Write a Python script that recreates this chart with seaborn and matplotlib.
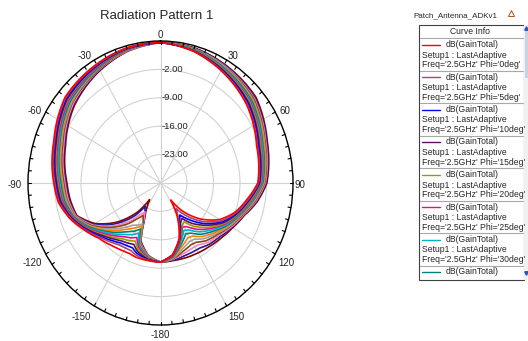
import numpy as np
import pandas as pd
import matplotlib
matplotlib.use('Agg')
import matplotlib.pyplot as plt
from matplotlib.patches import Rectangle
from matplotlib import font_manager as fm
import seaborn as sns

# theta sample angles (deg) shared by every curve
theta_deg = [-180, -170, -160, -155, -150, -145, -140, -130, -120, -110, -100, -90,
             -70, -50, -30, -15, 0, 15, 30, 50, 70, 90, 100, 110, 120, 130, 140,
             147, 152, 160, 170, 180]

phi_names = ['0deg', '5deg', '10deg', '15deg', '20deg', '25deg', '30deg',
             '35deg', '40deg', '45deg', '50deg', '55deg', '60deg', '65deg']

# dB(GainTotal)
gain_phi00 = [-10.5, -10.6, -10.6, -10.8, -10.6, -10.3, -9.9, -8.8, -6.8, -4.5, -2.6, -1.8, 0.0, 2.9, 3.8, 4.5,
              4.7, 3.6, 2.0, -0.2, -3.0, -4.3, -6.8, -9.0, -12.0, -16.2, -21.0, -25.0, -20.5, -15.5, -12.0, -10.5]
gain_phi05 = [-10.5, -10.7, -11.1, -11.6, -11.5, -11.3, -10.7, -9.2, -7.0, -4.7, -2.8, -2.1, -0.2, 2.7, 3.7, 4.4,
              4.7, 3.7, 2.1, 0.0, -2.8, -4.1, -6.5, -8.7, -11.4, -15.2, -19.5, -22.5, -20.0, -15.4, -11.9, -10.5]
gain_phi10 = [-10.5, -10.8, -11.6, -12.4, -12.2, -11.9, -11.2, -9.5, -7.2, -4.8, -3.0, -2.3, -0.4, 2.4, 3.5, 4.3,
              4.6, 3.7, 2.3, 0.3, -2.5, -3.9, -6.3, -8.5, -11.0, -14.4, -18.2, -20.6, -19.4, -15.3, -11.9, -10.5]
gain_phi15 = [-10.5, -10.9, -12.1, -13.3, -12.9, -12.5, -11.8, -9.9, -7.4, -5.0, -3.3, -2.6, -0.7, 2.2, 3.4, 4.3,
              4.6, 3.8, 2.4, 0.5, -2.3, -3.8, -6.1, -8.3, -10.6, -13.8, -17.0, -19.6, -18.8, -15.2, -11.8, -10.5]
gain_phi20 = [-10.5, -11.0, -12.6, -14.2, -13.6, -13.1, -12.3, -10.2, -7.6, -5.1, -3.5, -2.9, -0.9, 2.0, 3.3, 4.2,
              4.7, 3.9, 2.6, 0.8, -2.0, -3.6, -5.8, -8.1, -10.3, -13.1, -16.0, -18.6, -18.0, -15.0, -11.7, -10.5]
gain_phi25 = [-10.5, -11.1, -13.1, -15.2, -14.4, -13.8, -12.9, -10.6, -7.8, -5.3, -3.8, -3.1, -1.2, 1.7, 3.1, 4.1,
              4.6, 3.9, 2.7, 1.0, -1.8, -3.4, -5.6, -7.9, -10.0, -12.6, -15.1, -17.2, -17.7, -14.8, -11.6, -10.5]
gain_phi30 = [-10.5, -11.2, -13.4, -16.4, -15.3, -14.5, -13.5, -11.0, -8.0, -5.4, -4.0, -3.4, -1.5, 1.5, 3.0, 4.1,
              4.7, 4.0, 2.8, 1.2, -1.5, -3.2, -5.4, -7.7, -9.7, -12.1, -14.3, -16.2, -16.8, -14.5, -11.5, -10.5]
gain_phi35 = [-10.5, -11.3, -13.6, -17.5, -16.3, -15.4, -14.2, -11.4, -8.3, -5.6, -4.3, -3.7, -1.7, 1.2, 2.8, 4.0,
              4.6, 4.1, 3.0, 1.5, -1.3, -3.0, -5.2, -7.5, -9.4, -11.6, -13.5, -15.3, -15.8, -14.0, -11.4, -10.5]
gain_phi40 = [-10.5, -11.4, -13.8, -18.3, -17.3, -16.3, -15.0, -11.9, -8.5, -5.7, -4.5, -4.0, -2.0, 1.0, 2.7, 3.9,
              4.7, 4.1, 3.1, 1.7, -1.0, -2.8, -5.0, -7.3, -9.2, -11.1, -12.8, -14.4, -14.7, -13.4, -11.3, -10.5]
gain_phi45 = [-10.5, -11.5, -14.0, -18.9, -18.0, -17.3, -15.8, -12.4, -8.7, -5.9, -4.8, -4.2, -2.2, 0.7, 2.6, 3.9,
              4.6, 4.2, 3.3, 1.9, -0.8, -2.7, -4.8, -7.2, -8.9, -10.7, -12.1, -13.5, -13.7, -12.8, -11.1, -10.5]
gain_phi50 = [-10.5, -11.6, -14.2, -19.3, -20.8, -19.3, -17.0, -13.0, -9.0, -6.0, -5.0, -4.5, -2.5, 0.5, 2.4, 3.8,
              4.7, 4.3, 3.4, 2.2, -0.6, -2.5, -4.6, -7.0, -8.7, -10.3, -11.4, -12.6, -12.8, -12.2, -11.0, -10.5]
gain_phi55 = [-10.5, -11.7, -14.4, -19.6, -21.8, -20.5, -18.0, -13.6, -9.3, -6.2, -5.3, -4.8, -2.8, 0.2, 2.3, 3.7,
              4.6, 4.3, 3.5, 2.4, -0.4, -2.3, -4.4, -6.8, -8.4, -9.9, -10.8, -11.8, -11.9, -11.6, -10.9, -10.5]
gain_phi60 = [-10.5, -11.7, -14.6, -19.8, -21.8, -23.0, -19.5, -14.3, -9.6, -6.3, -5.5, -5.0, -3.0, 0.0, 2.1, 3.7,
              4.7, 4.4, 3.7, 2.6, -0.2, -2.1, -4.2, -6.7, -8.2, -9.5, -10.2, -10.9, -11.0, -11.0, -10.7, -10.5]
gain_phi65 = [-10.5, -11.8, -14.8, -20.0, -22.6, -25.0, -20.8, -15.0, -10.0, -6.5, -5.8, -5.3, -3.3, -0.3, 2.0, 3.6,
              4.6, 4.5, 3.8, 2.9, 0.0, -1.9, -4.0, -6.5, -8.0, -9.0, -9.7, -10.0, -10.2, -10.4, -10.6, -10.5]

curve_colors = ['#ff0000', '#a04878', '#0000ff', '#5a1060', '#9a9a00', '#e0108c', '#00b4c8',
                '#008080', '#ff8000', '#a0a0a0', '#8b4513', '#ff80c0', '#1e1e9e', '#8b0000']

r_ticks = [-23, -16, -9, -2]
r_tick_labels = ['-23.00', '-16.00', '-9.00', '-2.00']
angle_ticks = [0, 30, 60, 90, 120, 150, 180, 210, 240, 270, 300, 330]
angle_labels = ['0', '30', '60', '90', '120', '150', '-180', '-150', '-120', '-90', '-60', '-30']
# pixel offsets of the angle labels from the rim
angle_label_offsets = [(0, 6), (6, 4), (10, 1), (7, -2), (11, -9), (10, -11), (0, -10),
                       (-13, -11), (-14, -9), (-13, -2), (-11, 1), (-10, 4)]

gains = [gain_phi00, gain_phi05, gain_phi10, gain_phi15, gain_phi20, gain_phi25, gain_phi30,
         gain_phi35, gain_phi40, gain_phi45, gain_phi50, gain_phi55, gain_phi60, gain_phi65]

rows = []
for phi, vals in zip(phi_names, gains):
    for t, g in zip(theta_deg, vals):
        rows.append({'phi': phi, 'theta': np.deg2rad(t), 'gain': g})
df = pd.DataFrame(rows)

sns.set_theme(style='white')
plt.rcParams['font.family'] = ['Liberation Sans', 'DejaVu Sans']

# condensed face for the curve info box, if it is there
installed = {f.name for f in fm.fontManager.ttflist}
box_family = 'Liberation Sans Narrow' if 'Liberation Sans Narrow' in installed else 'Liberation Sans'
box_fs = 6.8 if box_family == 'Liberation Sans Narrow' else 6.2

fig = plt.figure(figsize=(5.28, 3.41), dpi=100)
fig.patch.set_facecolor('white')

ax = fig.add_axes([28 / 528, 16 / 341, 265 / 528, 284 / 341], projection='polar')
ax.set_theta_zero_location('N')
ax.set_theta_direction(-1)

palette = dict(zip(phi_names, curve_colors))
sns.lineplot(data=df, x='theta', y='gain', hue='phi', hue_order=phi_names[::-1],
             palette=palette, estimator=None, sort=False, legend=False, lw=1.2, ax=ax)
for ln in ax.lines:
    ln.get_path()._interpolation_steps = 12

ax.set_ylim(-30, 5)
ax.set_aspect('auto')
ax.set_xlabel('')
ax.set_ylabel('')
ax.set_rgrids(r_ticks, labels=[''] * len(r_ticks))
ax.set_thetagrids(angle_ticks, labels=[''] * len(angle_ticks))
ax.grid(True, color='#d2d2d2', lw=0.8)
ax.spines['polar'].set_color('black')
ax.spines['polar'].set_linewidth(1.0)

# small inward ticks every 5 degrees on the rim
for a in range(0, 360, 5):
    ax.plot([np.deg2rad(a)] * 2, [4.2, 5], color='black', lw=0.8, clip_on=False, zorder=5)

for r, lab in zip(r_ticks, r_tick_labels):
    ax.annotate(lab, xy=(0, r), xytext=(1, 0), textcoords='offset pixels',
                ha='left', va='center', fontsize=6.8, color='#222222')

for a, lab, off in zip(angle_ticks, angle_labels, angle_label_offsets):
    ax.annotate(lab, xy=(np.deg2rad(a), 5), xytext=off, textcoords='offset pixels',
                ha='center', va='center', fontsize=7, color='#222222', annotation_clip=False)

fig.text(157 / 528, 1 - 16 / 341, 'Radiation Pattern 1', ha='center', va='center', fontsize=9.5)

# curve info box, drawn in pixel coordinates
lax = fig.add_axes([0, 0, 1, 1], zorder=-1)
lax.set_xlim(0, 528)
lax.set_ylim(341, 0)
lax.axis('off')

lax.text(455, 16, 'Patch_Antenna_ADKv1', ha='center', va='center', fontsize=5.8)
lax.plot(511, 13, marker='^', ms=4, mfc='none', mec='#b05020', mew=0.7)

lax.add_patch(Rectangle((419, 25), 105, 254.5, fc='white', ec='#404040', lw=0.8))
lax.add_patch(Rectangle((524, 25), 4, 254.5, fc='#f0f0f0', ec='none'))
lax.add_patch(Rectangle((524.5, 30), 3.5, 48, fc='#c9d3e3', ec='none'))
lax.plot(526, 28, marker='^', ms=2.5, color='#3050c0')
lax.plot(526, 273, marker='v', ms=2.5, color='#3050c0')
lax.text(470, 31.8, 'Curve Info', ha='center', va='center', fontsize=box_fs,
         family=[box_family, 'DejaVu Sans'])

for i in range(8):
    s = 38.2 + 32.5 * i
    lax.plot([420, 523], [s, s], color='#a8a8a8', lw=0.8)
    lax.plot([422, 440], [s + 6.3, s + 6.3], color=curve_colors[i], lw=1.0)
    lax.text(446, s + 6.3, 'dB(GainTotal)', ha='left', va='center', fontsize=box_fs,
             family=[box_family, 'DejaVu Sans'])
    if s + 27 < 279:
        lax.text(421.5, s + 16.8, 'Setup1 : LastAdaptive', ha='left', va='center', fontsize=box_fs,
                 family=[box_family, 'DejaVu Sans'])
        lax.text(421.5, s + 26.5, "Freq='2.5GHz' Phi='%s'" % phi_names[i], ha='left', va='center',
                 fontsize=box_fs, family=[box_family, 'DejaVu Sans'])

fig.savefig('out.png', dpi=100)
